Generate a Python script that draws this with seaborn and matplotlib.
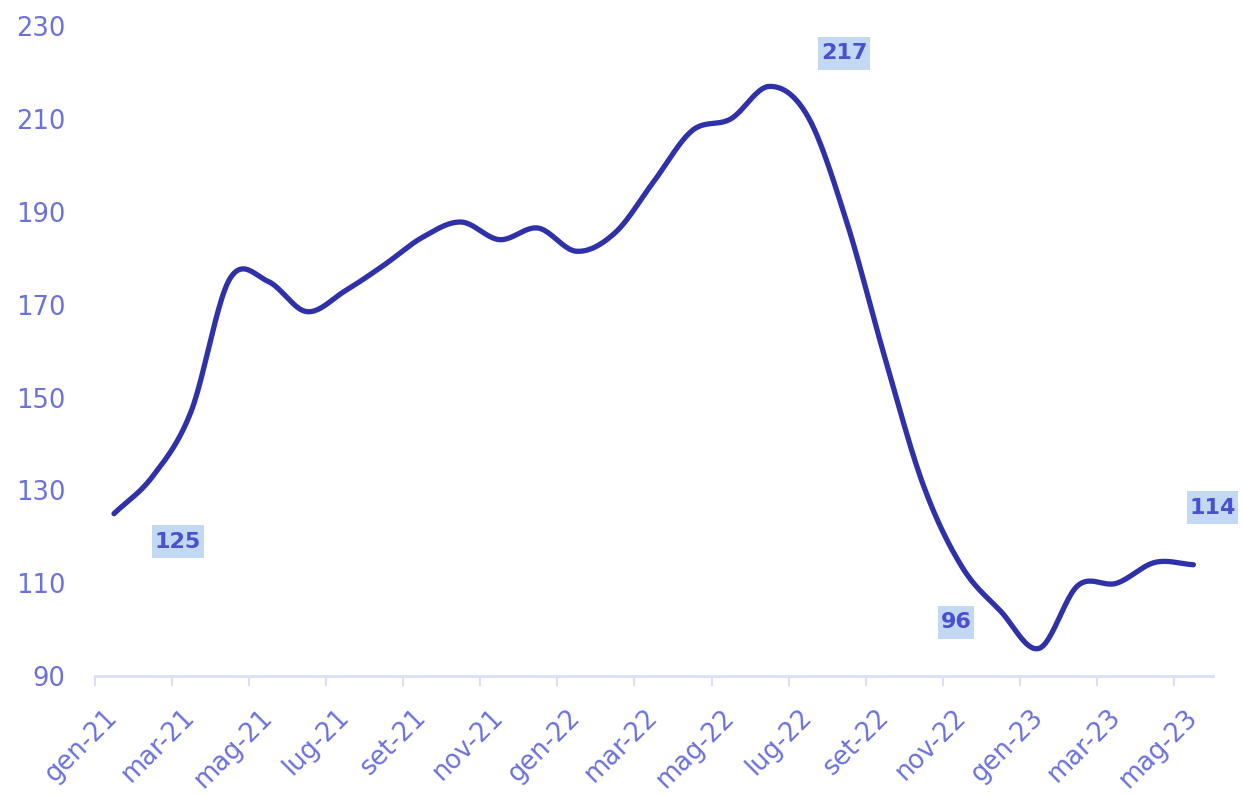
import numpy as np
import pandas as pd
import matplotlib
matplotlib.use("Agg")
import matplotlib.pyplot as plt
from matplotlib.transforms import ScaledTranslation
from matplotlib.path import Path
import seaborn as sns

# ---- data ----
months = ["gen-21", "feb-21", "mar-21", "apr-21", "mag-21", "giu-21", "lug-21", "ago-21",
          "set-21", "ott-21", "nov-21", "dic-21", "gen-22", "feb-22", "mar-22", "apr-22",
          "mag-22", "giu-22", "lug-22", "ago-22", "set-22", "ott-22", "nov-22", "dic-22",
          "gen-23", "feb-23", "mar-23", "apr-23", "mag-23"]
values = [125, 133, 147, 175.5, 175, 168.5, 173, 178.5, 184.5, 187.8, 184, 186.5, 181.5, 185.5,
          196.5, 207.5, 210, 217, 210.5, 188, 158.5, 131, 113.5, 104, 96, 109.5, 110, 114.5, 114]
tick_labels = months[::2]
y_ticks = [90, 110, 130, 150, 170, 190, 210, 230]
annot_idx = [0, 17, 24, 28]
annot_text = ["125", "217", "96", "114"]

# ---- style ----
sns.set_theme(style="white")
plt.rcParams["font.family"] = ["DejaVu Sans"]

LINE = "#2E31A8"
TICK = "#6B70DB"
AXIS = "#DCDDF6"
ANN_TXT = "#4A50D0"
ANN_BG = "#C3D8F2"

# smooth curve through the points (Catmull-Rom, like a "smoothed line")
x = np.arange(len(values), dtype=float)
y = np.asarray(values, dtype=float)
px = np.concatenate([[2 * x[0] - x[1]], x, [2 * x[-1] - x[-2]]])
py = np.concatenate([[2 * y[0] - y[1]], y, [2 * y[-1] - y[-2]]])
sx, sy = [], []
t = np.linspace(0, 1, 24, endpoint=False)
def cr(a0, a1, a2, a3):
    return 0.5 * ((2 * a1) + (-a0 + a2) * t +
                  (2 * a0 - 5 * a1 + 4 * a2 - a3) * t ** 2 +
                  (-a0 + 3 * a1 - 3 * a2 + a3) * t ** 3)
for i in range(1, len(px) - 2):
    sx.extend(cr(px[i - 1], px[i], px[i + 1], px[i + 2]))
    sy.extend(cr(py[i - 1], py[i], py[i + 1], py[i + 2]))
sx.append(x[-1]); sy.append(y[-1])
df = pd.DataFrame({"x": sx, "y": sy})

fig = plt.figure(figsize=(12.43, 7.96), dpi=100)
ax = fig.add_axes([0.0762, 0.1505, 0.8994, 0.8168])

sns.lineplot(data=df, x="x", y="y", ax=ax, color=LINE, linewidth=3.8, sort=False,
             solid_capstyle="round", solid_joinstyle="round")

ax.set_xlim(-0.5, len(values) - 0.5)
ax.set_ylim(90, 230)
ax.set_xlabel("")
ax.set_ylabel("")

# major ticks at category boundaries (marks only), minor ticks at centres (labels)
ax.set_xticks(np.arange(-0.5, len(values) - 0.5, 2))
ax.set_xticklabels([])
ax.set_xticks(np.arange(0, len(values), 2), minor=True)
ax.set_xticklabels(tick_labels, minor=True, rotation=45, ha="right", va="top",
                   rotation_mode="anchor", color=TICK, fontsize=18.5)
ax.tick_params(axis="x", which="major", bottom=True, length=7.5, width=1.5,
               color=AXIS, direction="out")
ax.tick_params(axis="x", which="minor", bottom=True, length=0, pad=20)
shift = ScaledTranslation(-0.09, 0, fig.dpi_scale_trans)
for lab in ax.get_xticklabels(minor=True):
    lab.set_transform(lab.get_transform() + shift)

ax.set_yticks(y_ticks)
ax.set_yticklabels([str(v) for v in y_ticks], color=TICK, fontsize=18.5)
ax.tick_params(axis="y", length=0, pad=21)

for s in ["top", "right", "left"]:
    ax.spines[s].set_visible(False)
ax.spines["bottom"].set_color(AXIS)
ax.spines["bottom"].set_linewidth(2)
ax.grid(False)


def label_box(x0, y0, width, height, mutation_size):
    """Rectangle with small horizontal and larger vertical padding."""
    padx = 0.12 * mutation_size
    pady = 0.3 * mutation_size
    xa, xb = x0 - padx, x0 + width + padx
    ya, yb = y0 - pady, y0 + height + pady
    return Path([(xa, ya), (xb, ya), (xb, yb), (xa, yb), (xa, ya)], closed=True)


offsets = {0: (64, -28), 17: (75, 33), 24: (-83, 26), 28: (19, 57)}
for i, txt in zip(annot_idx, annot_text):
    dx, dy = offsets[i]
    ax.annotate(txt, xy=(x[i], y[i]), xytext=(dx * 0.72, dy * 0.72),
                textcoords="offset points", ha="center", va="center",
                fontsize=16, fontweight="bold", color=ANN_TXT,
                bbox=dict(boxstyle=label_box, fc=ANN_BG, ec="none"),
                annotation_clip=False)

fig.savefig("out.png", dpi=100)
